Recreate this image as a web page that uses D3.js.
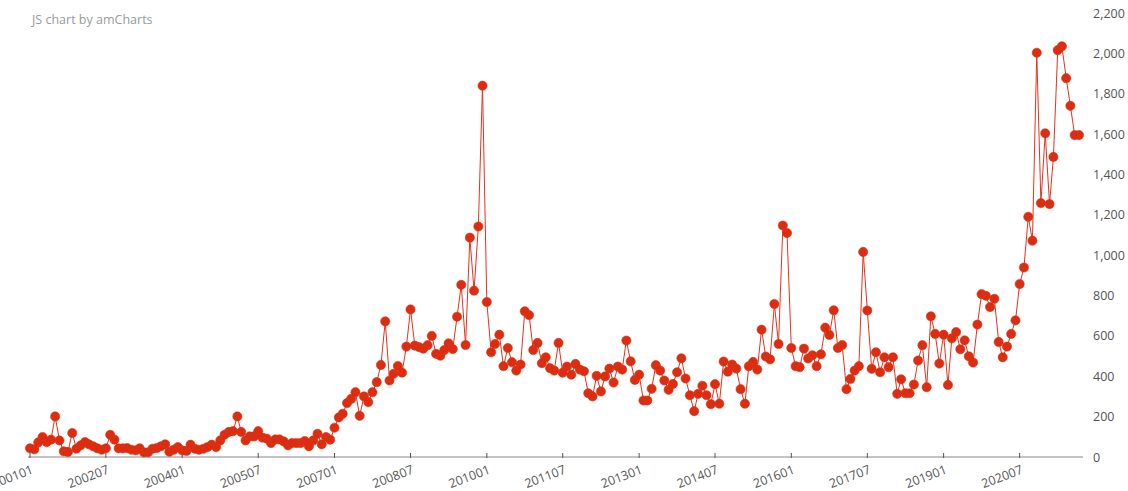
<!DOCTYPE html>
<html>
<head>
<meta charset="utf-8">
<script src="https://cdn.jsdelivr.net/npm/d3@7"></script>
<style>
  html, body { margin: 0; padding: 0; background: #fff; }
  svg { display: block; font-family: "Open Sans", "Noto Sans", sans-serif; }
</style>
</head>
<body>
<div id="chart"></div>
<script>
// monthly values, first month 2001-01
var startMonth = "200101";
var values = [
  43, 38, 72, 99, 74, 86, 201, 82, 28, 25, 119, 41,
  58, 74, 63, 53, 43, 36, 43, 110, 86, 43, 43, 44,
  36, 33, 43, 23, 23, 41, 44, 53, 63, 26, 36, 49,
  33, 30, 61, 41, 36, 41, 49, 61, 49, 82, 110, 124,
  128, 201, 124, 82, 102, 102, 128, 96, 91, 69, 87, 87,
  77, 58, 69, 69, 69, 79, 53, 82, 115, 63, 99, 86,
  145, 196, 214, 267, 288, 321, 204, 300, 272, 321, 371, 456,
  672, 379, 412, 451, 418, 547, 731, 552, 544, 537, 554, 600,
  511, 502, 530, 563, 535, 695, 853, 555, 1087, 824, 1142, 1840,
  768, 519, 560, 606, 450, 540, 470, 428, 458, 722, 703, 530,
  565, 465, 494, 440, 428, 565, 418, 448, 408, 461, 433, 425,
  316, 300, 402, 325, 399, 438, 369, 448, 433, 577, 474, 382,
  408, 280, 280, 338, 455, 428, 379, 333, 362, 420, 489, 389,
  306, 227, 313, 353, 306, 262, 361, 264, 473, 423, 458, 438,
  336, 264, 450, 471, 433, 631, 498, 484, 758, 560, 1147, 1110,
  540, 450, 445, 537, 488, 504, 450, 509, 641, 605, 727, 540,
  555, 336, 387, 428, 450, 1016, 726, 437, 519, 420, 494, 445,
  494, 313, 385, 316, 316, 359, 478, 554, 346, 697, 610, 463,
  606, 357, 588, 619, 534, 578, 499, 468, 656, 807, 799, 743,
  784, 570, 494, 547, 610, 677, 857, 939, 1190, 1072, 2003, 1258,
  1604, 1253, 1487, 2016, 2035, 1877, 1740, 1595, 1595
];
var xTickLabels = ["200101", "200207", "200401", "200507", "200701", "200807", "201001",
                   "201107", "201301", "201407", "201601", "201707", "201901", "202007"];
var yTicks = [0, 200, 400, 600, 800, 1000, 1200, 1400, 1600, 1800, 2000, 2200];

var W = 1128, H = 491;
var parseYM = d3.timeParse("%Y%m");
var t0 = parseYM(startMonth);
var data = values.map(function (v, i) { return { date: d3.timeMonth.offset(t0, i), value: v }; });

var svg = d3.select("#chart").append("svg").attr("width", W).attr("height", H);

var x = d3.scaleTime()
  .domain([data[0].date, data[data.length - 1].date])
  .range([30, 1079]);
var y = d3.scaleLinear().domain([0, 2200]).range([457, 13]);

// watermark title
svg.append("text")
  .attr("x", 32).attr("y", 24)
  .style("font-size", "12.5px")
  .style("fill", "#9a9a9a")
  .text("JS chart by amCharts");

// x axis
var xAxis = svg.append("g").attr("transform", "translate(0," + y(0) + ")");
xAxis.append("line")
  .attr("x1", 28).attr("x2", 1083)
  .attr("stroke", "#888").attr("stroke-width", 1.2);
var ticks = xAxis.selectAll("g.tick").data(xTickLabels).enter().append("g")
  .attr("class", "tick")
  .attr("transform", function (d) { return "translate(" + x(parseYM(d)) + ",0)"; });
ticks.append("line").attr("y1", -4).attr("y2", 1).attr("stroke", "#555");
ticks.append("text")
  .attr("text-anchor", "end")
  .attr("transform", "translate(4,16) rotate(-21)")
  .style("font-size", "12.5px")
  .style("fill", "#555")
  .text(function (d) { return d; });

// y axis on the right
var yAxis = svg.append("g")
  .attr("transform", "translate(1089,0)")
  .call(d3.axisRight(y).tickValues(yTicks).tickSize(0).tickPadding(4).tickFormat(d3.format(",")));
yAxis.select(".domain").remove();
yAxis.selectAll("text").style("font-size", "12.5px").style("fill", "#555")
  .style("font-family", "'Open Sans', 'Noto Sans', sans-serif");

// series
var line = d3.line().x(function (d) { return x(d.date); }).y(function (d) { return y(d.value); });
svg.append("path").datum(data)
  .attr("d", line)
  .attr("fill", "none")
  .attr("stroke", "#e3321e")
  .attr("stroke-width", 1);

svg.append("g").selectAll("circle").data(data).enter().append("circle")
  .attr("cx", function (d) { return x(d.date); })
  .attr("cy", function (d) { return y(d.value); })
  .attr("r", 4.6)
  .attr("fill", "#dc2c12")
  .attr("stroke", "#d8340f")
  .attr("stroke-width", 0.6);
</script>
</body>
</html>
